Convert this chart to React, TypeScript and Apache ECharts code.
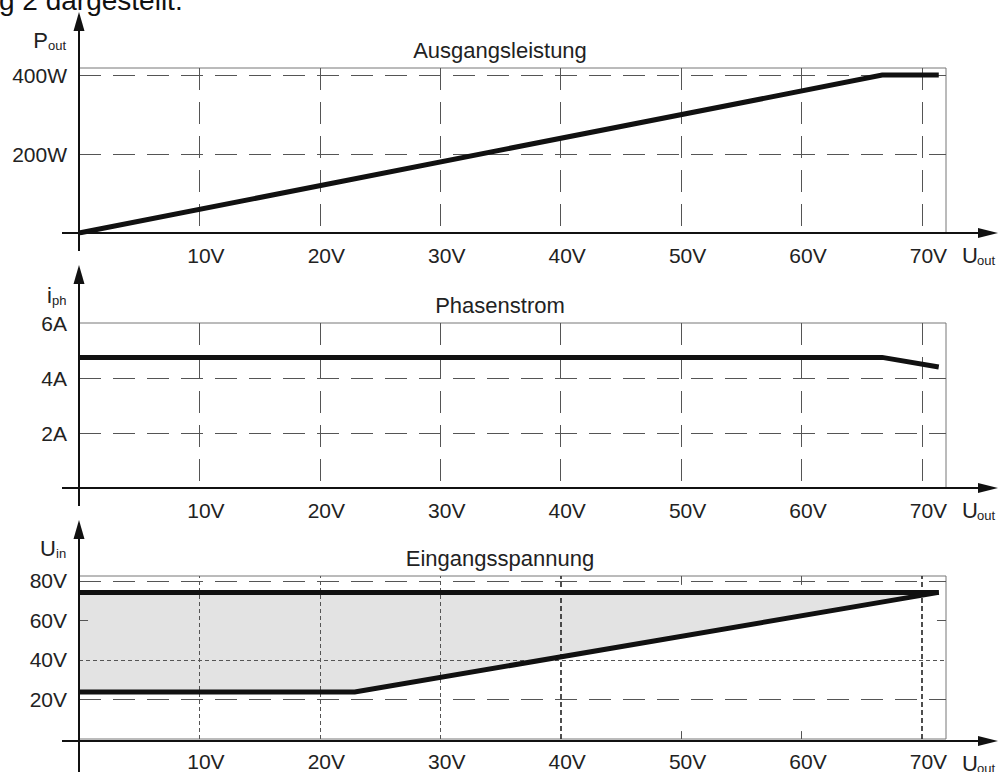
import React, { useEffect, useRef } from "react";
import * as echarts from "echarts";

// ---- data ----
const xTickValues = [10, 20, 30, 40, 50, 60, 70];
const powerU = [0, 66.7, 71.4];
const powerW = [0, 400, 400];
const phaseU = [0, 66.7, 71.4];
const phaseA = [4.75, 4.75, 4.4];
const inMaxU = [0, 71.4];
const inMaxV = [74.2, 74.2];
const inMinU = [0, 22.9, 71.4];
const inMinV = [23.8, 23.8, 74.2];
const titles = ["Ausgangsleistung", "Phasenstrom", "Eingangsspannung"];
const yMax = [418, 6, 82.5];
const yInterval = [200, 2, 20];
const yUnit = ["W", "A", "V"];
const yNames = [
  ["P", "out"],
  ["i", "ph"],
  ["U", "in"],
];

// ---- layout ----
const FONT = "'Liberation Sans', Arial, sans-serif";
const GRID_LEFT = 79;
const GRID_W = 867;
const PANEL_H = 165;
const PANEL_TOPS = [68, 323, 576];
const X_MIN = 0;
const X_MAX = 72;

function pairs(xs: number[], ys: number[]) {
  return xs.map((x, i) => [x, ys[i]]);
}

function buildOption() {
  const dashLong = { type: [22, 12], color: "#555", width: 1 };
  const dashShort = { type: [4, 3], color: "#555", width: 1 };
  const dashThick = { type: [5, 3], color: "#222", width: 1.6 };
  const tickSolid = { type: "solid", color: "#555", width: 1 };

  const grids = PANEL_TOPS.map((t) => ({
    left: GRID_LEFT,
    top: t,
    width: GRID_W,
    height: PANEL_H,
    show: true,
    borderColor: "#777",
    borderWidth: 1,
    backgroundColor: "transparent",
  }));

  const xAxes = [0, 1, 2].map((i) => ({
    type: "value",
    gridIndex: i,
    min: X_MIN,
    max: X_MAX,
    interval: 10,
    axisLine: { show: false },
    axisTick: { show: false },
    axisLabel: {
      formatter: (v: number) => (xTickValues.includes(v) ? `${v}V` : ""),
      fontSize: 21,
      color: "#222",
      fontFamily: FONT,
      margin: 12,
      padding: [0, 0, 0, 13],
    },
    splitLine:
      i < 2
        ? { show: true, showMinLine: false, showMaxLine: false, lineStyle: dashLong }
        : { show: false },
  }));

  const yAxes = [0, 1, 2].map((i) => ({
    type: "value",
    gridIndex: i,
    min: 0,
    max: yMax[i],
    interval: yInterval[i],
    axisLine: { show: false },
    axisTick: { show: false },
    axisLabel: {
      formatter: (v: number) =>
        v > 0 && v % yInterval[i] === 0 ? `${v}${yUnit[i]}` : "",
      fontSize: 21,
      color: "#222",
      fontFamily: FONT,
      margin: 12,
      showMaxLabel: true,
    },
    splitLine:
      i < 2
        ? { show: true, showMinLine: false, showMaxLine: false, lineStyle: dashLong }
        : { show: false },
  }));

  const upperPts = pairs(inMaxU, inMaxV);
  const lowerPts = pairs(inMinU, inMinV);

  const lineStyleMain = { color: "#111", width: 5, cap: "butt", join: "miter" };

  const series: any[] = [
    {
      type: "line",
      xAxisIndex: 0,
      yAxisIndex: 0,
      data: pairs(powerU, powerW),
      symbol: "none",
      lineStyle: lineStyleMain,
      z: 3,
      silent: true,
    },
    {
      type: "line",
      xAxisIndex: 1,
      yAxisIndex: 1,
      data: pairs(phaseU, phaseA),
      symbol: "none",
      lineStyle: lineStyleMain,
      z: 3,
      silent: true,
    },
    {
      type: "custom",
      xAxisIndex: 2,
      yAxisIndex: 2,
      data: [[0, 0]],
      z: 1,
      silent: true,
      renderItem: (_params: any, api: any) => {
        const pts = [...upperPts, ...lowerPts.slice().reverse()].map((p) =>
          api.coord(p)
        );
        return {
          type: "polygon",
          shape: { points: pts },
          style: { fill: "#e3e3e3" },
        };
      },
      markLine: {
        silent: true,
        symbol: "none",
        z: 2,
        label: { show: false },
        animation: false,
        data: [
          { xAxis: 10, lineStyle: dashShort },
          { xAxis: 20, lineStyle: dashShort },
          { xAxis: 30, lineStyle: dashShort },
          { xAxis: 40, lineStyle: dashThick },
          { xAxis: 70, lineStyle: dashThick },
          { yAxis: 40, lineStyle: dashShort },
          { yAxis: 80, lineStyle: dashLong },
          { yAxis: 20, lineStyle: dashLong },
          [
            { coord: [50, 0], lineStyle: tickSolid },
            { coord: [50, 4], lineStyle: tickSolid },
          ],
          [
            { coord: [60, 0], lineStyle: tickSolid },
            { coord: [60, 4], lineStyle: tickSolid },
          ],
          [
            { coord: [50, 82.5], lineStyle: tickSolid },
            { coord: [50, 78], lineStyle: tickSolid },
          ],
          [
            { coord: [60, 82.5], lineStyle: tickSolid },
            { coord: [60, 78], lineStyle: tickSolid },
          ],
          [
            { coord: [0, 60], lineStyle: tickSolid },
            { coord: [0.75, 60], lineStyle: tickSolid },
          ],
          [
            { coord: [71.25, 60], lineStyle: tickSolid },
            { coord: [72, 60], lineStyle: tickSolid },
          ],
        ],
      },
    },
    {
      type: "line",
      xAxisIndex: 2,
      yAxisIndex: 2,
      data: upperPts,
      symbol: "none",
      lineStyle: lineStyleMain,
      z: 3,
      silent: true,
    },
    {
      type: "line",
      xAxisIndex: 2,
      yAxisIndex: 2,
      data: lowerPts,
      symbol: "none",
      lineStyle: lineStyleMain,
      z: 3,
      silent: true,
    },
  ];

  // ---- decorations: axis arrows, titles, axis names ----
  const graphic: any[] = [];
  const axisColor = "#111";
  const textColor = "#222";
  const bottoms = PANEL_TOPS.map((t) => t + PANEL_H);
  const yAxisTopTip = [12, 265, 520];
  const yAxisBottom = [251, 506, 772];

  bottoms.forEach((B, i) => {
    // y axis
    const tip = yAxisTopTip[i];
    graphic.push({
      type: "line",
      z: 10,
      shape: { x1: GRID_LEFT, y1: yAxisBottom[i], x2: GRID_LEFT, y2: tip + 10 },
      style: { stroke: axisColor, lineWidth: 2 },
    });
    graphic.push({
      type: "polygon",
      z: 10,
      shape: {
        points: [
          [GRID_LEFT, tip],
          [GRID_LEFT - 5.5, tip + 19],
          [GRID_LEFT + 5.5, tip + 19],
        ],
      },
      style: { fill: axisColor },
    });
    // x axis
    graphic.push({
      type: "line",
      z: 10,
      shape: { x1: 62, y1: B, x2: 982, y2: B },
      style: { stroke: axisColor, lineWidth: 2 },
    });
    graphic.push({
      type: "polygon",
      z: 10,
      shape: {
        points: [
          [998, B],
          [978, B - 5],
          [978, B + 5],
        ],
      },
      style: { fill: axisColor },
    });
    // title
    graphic.push({
      type: "text",
      z: 10,
      x: 500,
      y: PANEL_TOPS[i] - 18,
      style: {
        text: titles[i],
        fontSize: 22,
        fontFamily: FONT,
        fill: textColor,
        align: "center",
        verticalAlign: "middle",
      },
    });
    // y axis name
    const nameBase = B - 185;
    const subX = [48, 52, 56][i];
    graphic.push({
      type: "text",
      z: 10,
      x: subX,
      y: nameBase - 7.7,
      style: {
        text: yNames[i][0],
        fontSize: 22,
        fontFamily: FONT,
        fill: textColor,
        align: "right",
        verticalAlign: "middle",
      },
    });
    graphic.push({
      type: "text",
      z: 10,
      x: subX,
      y: nameBase + 2 - 4.5,
      style: {
        text: yNames[i][1],
        fontSize: 13,
        fontFamily: FONT,
        fill: textColor,
        align: "left",
        verticalAlign: "middle",
      },
    });
    // x axis name
    graphic.push({
      type: "text",
      z: 10,
      x: 962,
      y: B + 30 - 7.7,
      style: {
        text: "U",
        fontSize: 22,
        fontFamily: FONT,
        fill: textColor,
        align: "left",
        verticalAlign: "middle",
      },
    });
    graphic.push({
      type: "text",
      z: 10,
      x: 977,
      y: B + 32 - 4.5,
      style: {
        text: "out",
        fontSize: 13,
        fontFamily: FONT,
        fill: textColor,
        align: "left",
        verticalAlign: "middle",
      },
    });
  });

  // cut-off line of the surrounding document text
  graphic.push({
    type: "text",
    z: 10,
    x: -1,
    y: 0,
    style: {
      text: "g 2 dargestellt.",
      fontSize: 28,
      fontFamily: FONT,
      fill: "#111",
      align: "left",
      verticalAlign: "middle",
    },
  });

  return {
    animation: false,
    backgroundColor: "#ffffff",
    grid: grids,
    xAxis: xAxes,
    yAxis: yAxes,
    series,
    graphic,
  };
}

export default function App() {
  const ref = useRef<HTMLDivElement>(null);
  useEffect(() => {
    const chart = echarts.init(ref.current as HTMLDivElement, null, {
      renderer: "svg",
    });
    chart.setOption(buildOption() as any);
    return () => chart.dispose();
  }, []);
  return (
    <div
      ref={ref}
      style={{
        position: "fixed",
        left: 0,
        top: 0,
        width: 1000,
        height: 772,
        background: "#fff",
      }}
    />
  );
}
